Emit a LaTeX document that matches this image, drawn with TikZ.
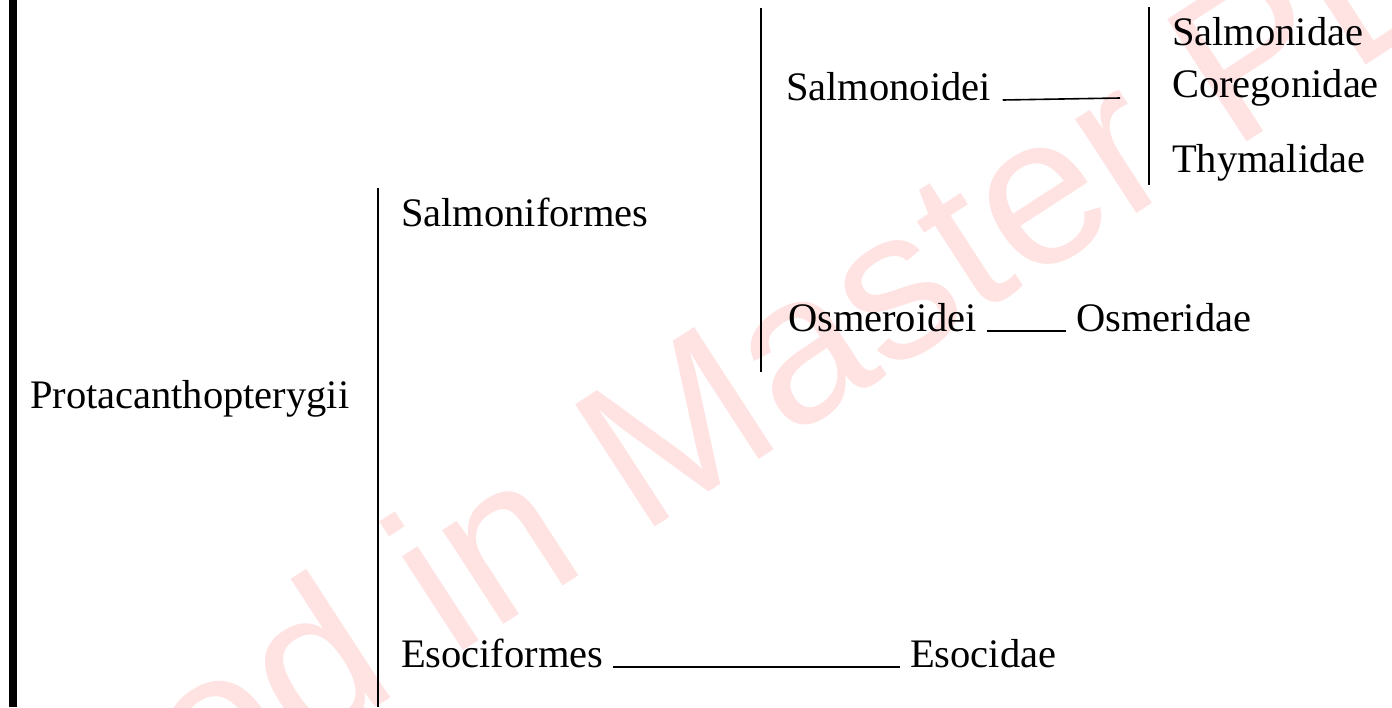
\documentclass[tikz,border=0pt]{standalone}
\usepackage{fontspec}
\setmainfont{Liberation Serif}
\newfontfamily\wmfont{Liberation Sans}
\definecolor{wmcol}{RGB}{255,226,226}
\begin{document}
\begin{tikzpicture}[x=0.5pt,y=-0.5pt,
  lbl/.style={anchor=base west,inner sep=0pt,outer sep=0pt,font=\fontsize{20.25}{24}\selectfont},
  brk/.style={line width=0.75pt},
  uline/.style={line width=1pt},
  wm/.style={inner sep=0pt,outer sep=0pt,text=wmcol,rotate=33,font=\wmfont\fontsize{106}{106}\selectfont}]
\useasboundingbox (0,0) rectangle (1392,707);
\fill[white] (0,0) rectangle (1392,707);
% watermark
\begin{scope}
\clip (0,0) rectangle (1392,707);
\coordinate (mb) at (640,536);
\node[wm,anchor=base west] (wm1) at (mb) {Master PDF Editor};
\node[wm,anchor=base east] (wm2) at (mb) {Created in\kern0.278em};
\end{scope}
% left bar
\fill[black] (9,0) rectangle (17,707);
% labels
\node[lbl] (P)  at (30,408)  {Protacanthopterygii};
\node[lbl] (SF) at (401,226) {Salmoniformes};
\node[lbl] (SO) at (786,100) {Salmonoidei};
\node[lbl] (SD) at (1172,45) {Salmonidae};
\node[lbl] (CG) at (1172,97) {Coregonidae};
\node[lbl] (TH) at (1172,172) {Thymalidae};
\node[lbl] (OS) at (788,331) {Osmeroidei};
\node[lbl] (OD) at (1076,331) {Osmeridae};
\node[lbl] (ES) at (401,667) {Esociformes};
\node[lbl] (EC) at (910,667) {Esocidae};
% brackets
\coordinate (b1t) at (378,188); \coordinate (b1b) at (378,707);
\coordinate (b2t) at (761,8);   \coordinate (b2b) at (761,372);
\coordinate (b3t) at (1149,7);  \coordinate (b3b) at (1149,185);
\draw[brk] (b1t) -- (b1b);
\draw[brk] (b2t) -- (b2b);
\draw[brk] (b3t) -- (b3b);
% underlines
\coordinate (soe) at (1120,98);
\draw[uline,line width=0.8pt] ([xshift=6pt]SO.base east) -- (soe);
\draw[uline] ([xshift=5pt]OS.base east) -- ([xshift=-5pt]OD.base west);
\draw[uline] ([xshift=5pt]ES.base east) -- ([xshift=-5pt]EC.base west);
\end{tikzpicture}
\end{document}
